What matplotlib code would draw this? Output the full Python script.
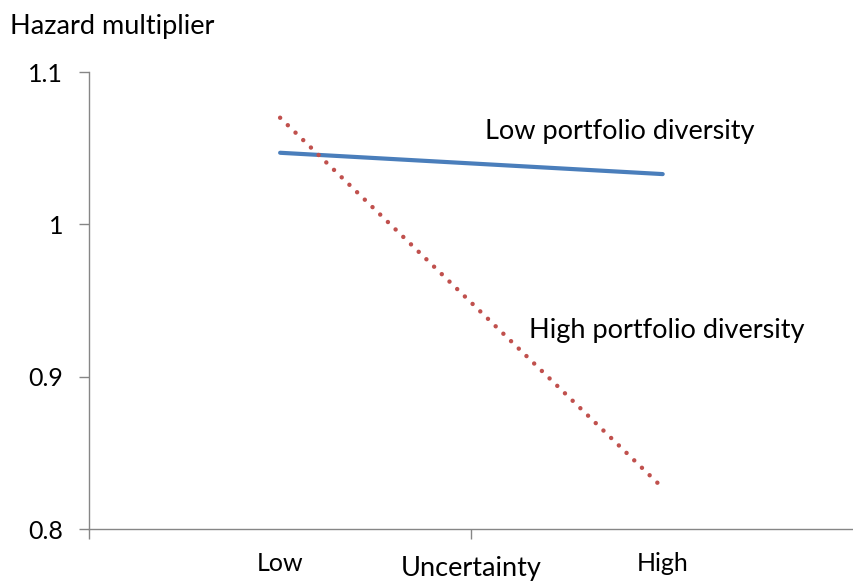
import matplotlib.pyplot as plt

# Data
categories = ["Low", "High"]
low_diversity = [1.047, 1.033]
high_diversity = [1.070, 0.827]
y_ticks = [0.8, 0.9, 1.0, 1.1]
y_labels = ["0.8", "0.9", "1", "1.1"]

plt.rcParams['font.family'] = ['Lato', 'DejaVu Sans']
grey = "#868686"

fig = plt.figure(figsize=(8.54, 5.81), dpi=100)
ax = fig.add_axes([0.104, 0.0895, 0.896, 0.7865])

x = range(len(categories))
ax.plot(x, low_diversity, color="#4A7EBB", linewidth=3.0, solid_capstyle="round")
ax.plot(x, high_diversity, color="#C0504D", linewidth=3.2,
        linestyle=(0, (0.01, 2.4)), dash_capstyle="round")

ax.set_xlim(-0.5, 1.5)
ax.set_ylim(0.8, 1.1)
ax.set_yticks(y_ticks)
ax.set_yticklabels(y_labels, fontsize=18)
ax.set_xticks([-0.5, 0.5, 1.5])
ax.set_xticklabels([])
ax.tick_params(axis="both", colors=grey, length=7, width=1, labelcolor="black")
ax.tick_params(axis="y", pad=11.5)

for side in ["top", "right"]:
    ax.spines[side].set_visible(False)
for side in ["left", "bottom"]:
    ax.spines[side].set_color(grey)
    ax.spines[side].set_linewidth(1)

# category labels
for i, c in enumerate(categories):
    ax.text(i, -0.076, c, transform=ax.get_xaxis_transform(), ha="center",
            va="center", fontsize=18)
ax.text(0.5, -0.086, "Uncertainty", transform=ax.get_xaxis_transform(),
        ha="center", va="center", fontsize=19.5)

fig.text(0.012, 0.955, "Hazard multiplier", ha="left", va="center", fontsize=19.5)
ax.text(0.887, 1.061, "Low portfolio diversity", ha="center", va="center", fontsize=19.5)
ax.text(1.01, 0.9306, "High portfolio diversity", ha="center", va="center", fontsize=19.5)

fig.savefig("out.png", dpi=100)
